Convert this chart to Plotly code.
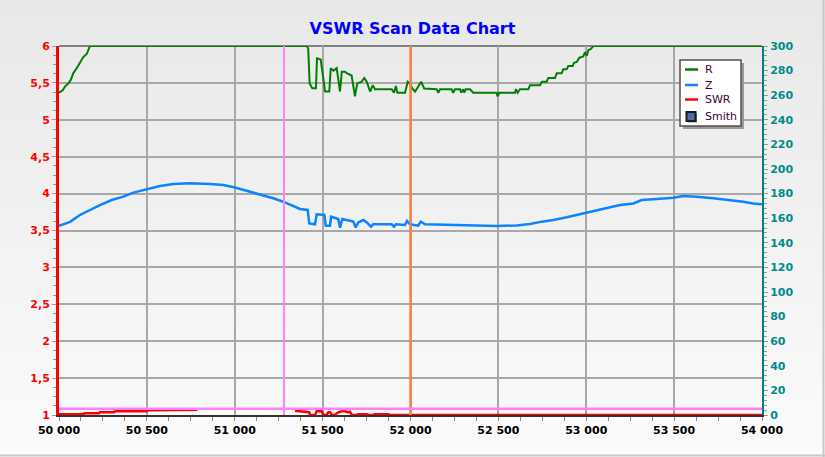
import plotly.graph_objects as go

# ---------------- data ----------------
r_freq = [50000, 50021, 50034, 50053, 50067, 50081, 50101, 50119, 50138, 50158, 50176,
          51409, 51418, 51426, 51441, 51462, 51468, 51489, 51514, 51538, 51546, 51561,
          51580, 51599, 51609, 51627, 51637, 51665, 51684, 51697, 51722, 51737, 51751,
          51770, 51785, 51798, 51893, 51906, 51917, 51925, 51969, 51984, 51993, 52010,
          52026, 52044, 52060, 52078, 52149, 52158, 52168, 52234, 52243, 52253, 52282,
          52289, 52300, 52306, 52314, 52339, 52357, 52490, 52496, 52505, 52595, 52600,
          52610, 52623, 52670, 52680, 52737, 52747, 52775, 52784, 52822, 52832, 52860,
          52869, 52888, 52898, 52923, 52930, 52946, 52961, 52983, 52993, 53003, 53012,
          53025, 53040, 54000]
r_vals = [262, 264, 267, 269.6, 272.4, 277.8, 282, 287, 291, 293.5, 300,
          300, 298, 269.6, 265.6, 265.6, 290, 289, 263, 263, 282, 280,
          282, 263, 279, 279, 278, 276, 259, 269.6, 271, 274, 271,
          263, 268, 264.8, 264.8, 262, 267.5, 262, 262, 271, 270, 265.6,
          263, 267, 271, 265.5, 264.8, 262, 264.8, 264.8, 262, 264.8, 264.8,
          262, 264.8, 262, 264.8, 264.8, 262, 262, 259, 262, 262, 264.8,
          262, 264.8, 264.8, 268, 268, 271, 271, 274, 274, 277.8, 277.8,
          281, 281, 283.7, 283.7, 286.4, 287, 290.5, 291.5, 295, 292, 296.7,
          297.5, 300, 300]

z_freq = [50000, 50063, 50119, 50176, 50233, 50300, 50366, 50423, 50499, 50575, 50650,
          50745, 50859, 50935, 51001, 51068, 51144, 51219, 51276, 51343, 51371, 51415,
          51424, 51457, 51466, 51510, 51518, 51542, 51548, 51589, 51599, 51612, 51646,
          51675, 51688, 51703, 51731, 51751, 51775, 51788, 51893, 51906, 51917, 51969,
          51980, 51997, 52044, 52058, 52083, 52225, 52357, 52490, 52604, 52680, 52747,
          52812, 52889, 52946, 53003, 53078, 53192, 53268, 53315, 53401, 53495, 53552,
          53628, 53723, 53818, 53894, 53950, 54000]
z_vals = [153.7, 157, 162.6, 166.7, 170.7, 174.8, 177.5, 180.8, 183.5, 186.2, 187.8,
          188.4, 187.8, 187, 185, 182.4, 178.9, 176.2, 173.4, 169.4, 167.5, 166.7,
          155.8, 155, 163.2, 162.6, 153.9, 153.9, 161.2, 159.3, 152.3, 159.3, 158.5,
          157.2, 152.5, 156.6, 158.5, 156.6, 153.1, 155, 155, 153.1, 155, 154.5,
          157.7, 155, 153.9, 157.2, 155, 154.5, 153.9, 153.7, 154.1, 155.3, 157.2,
          158.5, 160.7, 162.6, 164.5, 166.7, 170.7, 172, 174.8, 175.6, 176.7, 178,
          177.5, 176.2, 174.8, 173.4, 172, 171.3]

swr_freq = [50000, 50135, 50145, 50228, 50233, 50313, 50319, 50499, 50508, 50622, 50632,
            50787, 51000, 51343, 51381, 51400, 51409, 51423, 51428, 51457, 51466, 51495,
            51504, 51523, 51532, 51542, 51552, 51570, 51580, 51599, 51622, 51641, 51656,
            51666, 51694, 51703, 51751, 51760, 51788, 51798, 51874, 51883, 54000]
swr_vals = [1.01, 1.01, 1.023, 1.023, 1.037, 1.037, 1.05, 1.05, 1.064, 1.064, 1.072,
            1.072, None, 1.058, 1.045, 1.045, 1.037, 1.037, 1.0, 1.0, 1.05, 1.05,
            1.0, 1.0, 1.037, 1.037, 1.0, 1.005, 1.023, 1.045, 1.054, 1.037, 1.045,
            1.0, 1.005, 1.01, 1.01, 1.0, 1.0, 1.01, 1.01, 1.0, 1.0]

smith_freq = [None]
smith_vals = [None]

marker_freqs = [51280, 52000]
swr_limit = 1.085

x_ticks = [50000, 50500, 51000, 51500, 52000, 52500, 53000, 53500, 54000]
legend_names = ["R", "Z", "SWR", "Smith"]

# ---------------- figure ----------------
W, H = 825, 457
ML, MR, MT, MB = 59, 63, 46, 42
PW, PH = W - ML - MR, H - MT - MB

def px_x(p):
    return (p - ML) / PW

def px_y(p):
    return (H - MB - p) / PH

COL_R, COL_Z, COL_SWR = "#008000", "#0a84ff", "#ff0000"
COL_SMITH = "#4a6cb0"

fig = go.Figure()
fig.add_trace(go.Scatter(x=r_freq, y=r_vals, name=legend_names[0], mode="lines", yaxis="y2",
                         line=dict(color=COL_R, width=2)))
fig.add_trace(go.Scatter(x=z_freq, y=z_vals, name=legend_names[1], mode="lines", yaxis="y2",
                         line=dict(color=COL_Z, width=2.5)))
fig.add_trace(go.Scatter(x=swr_freq, y=swr_vals, name=legend_names[2], mode="lines", yaxis="y",
                         connectgaps=False, line=dict(color=COL_SWR, width=2.5)))
fig.add_trace(go.Scatter(x=smith_freq, y=smith_vals, name=legend_names[3], mode="markers",
                         marker=dict(symbol="square", size=9, color=COL_SMITH,
                                     line=dict(color="#1a1a1a", width=2))))

shapes = []
annotations = []
# background gradient
N = 46
top_c, bot_c = 232, 251
for i in range(N):
    p0 = i * H / N
    p1 = (i + 1) * H / N + 0.6
    c = round(top_c + (bot_c - top_c) * (i + 0.5) / N)
    shapes.append(dict(type="rect", xref="paper", yref="paper",
                       x0=px_x(0), x1=px_x(W), y0=px_y(p1), y1=px_y(p0),
                       line=dict(width=0), fillcolor=f"rgb({c},{c},{c})", layer="below"))
# top border of plot
shapes.append(dict(type="line", xref="paper", yref="paper", x0=0, x1=1, y0=1, y1=1,
                   line=dict(color="#808080", width=2), layer="below"))
# marker lines
shapes.append(dict(type="line", xref="x", yref="paper", x0=marker_freqs[0], x1=marker_freqs[0],
                   y0=0, y1=1, line=dict(color="#ff80ff", width=2)))
shapes.append(dict(type="line", xref="x", yref="paper", x0=marker_freqs[1], x1=marker_freqs[1],
                   y0=0, y1=1, line=dict(color="#ff8040", width=2.5)))
shapes.append(dict(type="line", xref="paper", yref="y", x0=0, x1=1, y0=swr_limit, y1=swr_limit,
                   line=dict(color="#ff80ff", width=2.5)))
# outer image border (right / bottom)
shapes.append(dict(type="line", xref="paper", yref="paper", x0=px_x(W - 1.5), x1=px_x(W - 1.5),
                   y0=px_y(0), y1=px_y(H), line=dict(color="#c8c8c8", width=2)))
shapes.append(dict(type="line", xref="paper", yref="paper", x0=px_x(0), x1=px_x(W),
                   y0=px_y(H - 1.5), y1=px_y(H - 1.5), line=dict(color="#c8c8c8", width=2)))

# legend box (drawn in pixel positions)
LX0, LX1, LY0, LY1 = 680, 741, 60, 126
shapes.append(dict(type="rect", xref="paper", yref="paper",
                   x0=px_x(LX0 + 3), x1=px_x(LX1 + 3), y0=px_y(LY1 + 3), y1=px_y(LY0 + 3),
                   line=dict(width=0), fillcolor="#9a9a9a"))
shapes.append(dict(type="rect", xref="paper", yref="paper",
                   x0=px_x(LX0), x1=px_x(LX1), y0=px_y(LY1), y1=px_y(LY0),
                   line=dict(color="#505050", width=1.5), fillcolor="#ffffff"))
item_y = [69.5, 85, 99.5, 116]
for name, col, yy in zip(legend_names[:3], [COL_R, COL_Z, COL_SWR], item_y[:3]):
    shapes.append(dict(type="line", xref="paper", yref="paper",
                       x0=px_x(685), x1=px_x(698), y0=px_y(yy), y1=px_y(yy),
                       line=dict(color=col, width=2.5)))
shapes.append(dict(type="rect", xref="paper", yref="paper",
                   x0=px_x(688), x1=px_x(697), y0=px_y(122.5), y1=px_y(113.5),
                   line=dict(width=0), fillcolor="#888888"))
shapes.append(dict(type="rect", xref="paper", yref="paper",
                   x0=px_x(686.5), x1=px_x(695.5), y0=px_y(121), y1=px_y(112),
                   line=dict(color="#1a1a1a", width=2), fillcolor=COL_SMITH))
for name, yy in zip(legend_names, item_y):
    annotations.append(dict(text=name, xref="paper", yref="paper", x=px_x(703), y=px_y(yy),
                            xanchor="left", yanchor="middle", showarrow=False,
                            font=dict(family="DejaVu Sans", size=11, color="#400040")))

FONT = "DejaVu Sans"

fig.update_layout(
    width=W, height=H,
    margin=dict(l=ML, r=MR, t=MT, b=MB, autoexpand=False),
    paper_bgcolor="#ececec",
    plot_bgcolor="rgba(0,0,0,0)",
    separators=", ",
    title=dict(text="VSWR Scan Data Chart", x=0.5, xanchor="center",
               y=1 - 28 / H, yanchor="middle",
               font=dict(family=FONT, size=16, color="#0000ff", weight="bold")),
    shapes=shapes,
    annotations=annotations,
    showlegend=False,
    xaxis=dict(range=[50000, 54000], tickvals=x_ticks, tickformat=",d", showgrid=True,
               gridcolor="#a8a8a8", gridwidth=1.5, zeroline=False,
               showline=True, linecolor="#333333", linewidth=2,
               ticks="outside", ticklen=4, tickcolor="#888888",
               tickfont=dict(family=FONT, size=11, color="#000000", weight="bold"),
               minor=dict(dtick=125, tick0=50000, ticks="outside", ticklen=4,
                          tickcolor="#888888", showgrid=False)),
    yaxis=dict(range=[1, 6], dtick=0.5, tick0=1, showgrid=True,
               gridcolor="#a8a8a8", gridwidth=1.5, zeroline=False,
               showline=True, linecolor="#ff0000", linewidth=3,
               ticks="outside", ticklen=4, tickcolor="#999999",
               tickfont=dict(family=FONT, size=11, color="#ff0000", weight="bold"),
               minor=dict(dtick=0.125, tick0=1, ticks="outside", ticklen=3,
                          tickcolor="#999999", showgrid=False)),
    yaxis2=dict(range=[0, 300], dtick=20, tick0=0, overlaying="y", side="right",
                showgrid=False, zeroline=False,
                showline=True, linecolor="#008080", linewidth=2,
                ticks="outside", ticklen=4, tickcolor="#999999",
                tickfont=dict(family=FONT, size=11, color="#008b8b", weight="bold"),
                minor=dict(dtick=4, tick0=0, ticks="outside", ticklen=3,
                           tickcolor="#999999", showgrid=False)),
)

fig.write_html("out.html", config={"displayModeBar": False},
               post_script="document.body.style.margin='0px';document.body.style.overflow='hidden';")
